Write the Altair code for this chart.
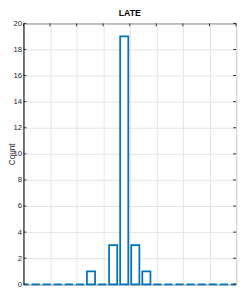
import altair as alt
import pandas as pd

# ---- data ----
counts = [0, 0, 0, 0, 0, 0, 1, 0, 3, 19, 3, 1, 0, 0, 0, 0, 0, 0, 0, 0]
bin_start = -1 / 6
bin_width = 5 / 12
x_ticks = [0, 1, 2, 3, 4, 5, 6, 7, 8]
y_ticks = [0, 2, 4, 6, 8, 10, 12, 14, 16, 18, 20]
title_text = "LATE"
y_title = "Count"

W, H = 220, 270
inset = 0.055
blue = "#0072BD"
dark = "#262626"
font = "Liberation Sans Narrow, Liberation Sans, Arial"
x_lo, x_hi = 0, 8

bars = pd.DataFrame({
    "x0": [max(x_lo, bin_start + i * bin_width + inset) for i in range(len(counts))],
    "x1": [min(x_hi, bin_start + (i + 1) * bin_width - inset) for i in range(len(counts))],
    "count": counts,
})
yt = pd.DataFrame({"v": y_ticks})
xt = pd.DataFrame({"v": x_ticks})

xs = alt.Scale(domain=[x_lo, x_hi], nice=False, zero=False)
ys = alt.Scale(domain=[0, 20], nice=False)

x_axis = alt.Axis(values=x_ticks, labels=False, ticks=False, domain=False,
                  grid=True, title=None)
y_axis = alt.Axis(values=y_ticks, ticks=False, domain=True, domainColor=dark,
                  grid=True, title=y_title, labelFontSize=8, labelColor=dark,
                  labelFont=font, labelPadding=2, titleFont="Liberation Sans",
                  titleFontSize=8.5, titleFontWeight="normal", titleColor=dark,
                  titleX=-16, titleBaseline="top")

bar_layer = alt.Chart(bars).mark_rect(
    fill="white", stroke=blue, strokeWidth=1.8
).encode(
    x=alt.X("x0:Q", scale=xs, axis=x_axis),
    x2="x1",
    y=alt.Y("count:Q", scale=ys, axis=y_axis),
    y2=alt.datum(0),
)

tick_l = alt.Chart(yt).mark_rule(color=dark, strokeWidth=1).encode(
    y=alt.Y("v:Q", scale=ys, axis=y_axis), x=alt.value(0), x2=alt.value(3))
tick_r = alt.Chart(yt).mark_rule(color=dark, strokeWidth=1).encode(
    y=alt.Y("v:Q", scale=ys, axis=y_axis), x=alt.value(W - 3), x2=alt.value(W))
tick_t = alt.Chart(xt).mark_rule(color=dark, strokeWidth=1).encode(
    x=alt.X("v:Q", scale=xs, axis=x_axis), y=alt.value(0), y2=alt.value(3))

chart = alt.layer(bar_layer, tick_l, tick_r, tick_t).properties(
    width=W, height=H,
    title=alt.Title(title_text, fontSize=9, fontWeight="bold", color="black",
                    font="Liberation Sans", offset=2),
    padding={"left": 16, "top": 11, "right": 2, "bottom": 2},
    autosize=alt.AutoSizeParams(type="none"),
).configure_view(
    stroke=dark, strokeWidth=1
).configure_axis(
    gridColor="#e3e3e3", gridWidth=1
)

chart.save("out.html", embed_options={"renderer": "svg", "actions": False})
